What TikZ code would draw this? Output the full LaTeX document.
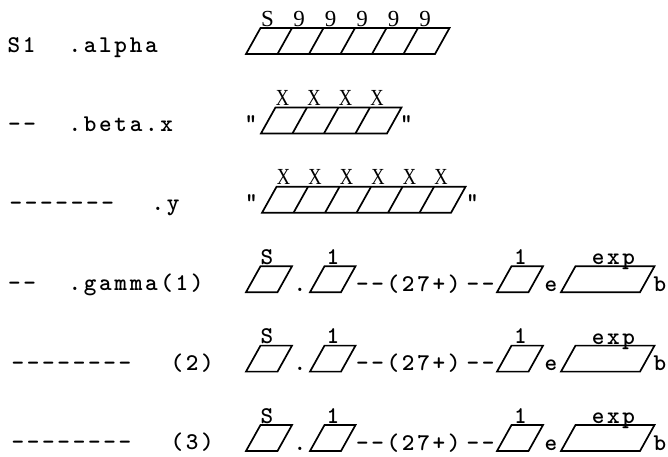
\documentclass[tikz,border=0pt]{standalone}
\usepackage{fontspec}
\newfontfamily\lserif{Liberation Serif}
\makeatletter
\newcommand\twspaced[1]{\@tfor\tw@c:=#1\do{\makebox[15.3pt]{\tw@c}}}
\makeatother
\tikzset{
  cellline/.style={line width=1.7pt, line join=miter},
  mono/.style={font=\fontsize{24}{24}\selectfont\ttfamily\bfseries, inner sep=0pt, anchor=base west},
  monoc/.style={font=\fontsize{24}{24}\selectfont\ttfamily\bfseries, inner sep=0pt, anchor=base},
  slab/.style={font=\fontsize{23}{23}\selectfont\lserif, inner sep=0pt, anchor=base},
  xlab/.style={slab, xscale=0.8},
}
% #1 = bottom-left x, #2 = top y, #3 = number of cells, #4 = cell width
\newcommand\cellstrip[4]{%
  \draw[cellline] (#1,#2+26) -- ++({#3*#4},0) -- ++(14.5,-26) -- ++({-#3*#4},0) -- cycle;
  \ifnum#3>1
    \foreach \k in {2,...,#3} \draw[cellline] ({#1+(\k-1)*#4},#2+26) -- ++(14.5,-26);
  \fi}
\begin{document}
\begin{tikzpicture}[x=1pt,y=-1pt]
\useasboundingbox (0,0) rectangle (668,456);
% ---------- row 1
\node[mono] (l1a) at (6,52) {\twspaced{S1}};
\node[mono] (l1b) at (67,52) {\twspaced{.alpha}};
\cellstrip{246}{28}{6}{31.5}
\foreach \t [count=\i from 0] in {S,9,9,9,9,9}
  \node[slab] (r1l\i) at ({246+14.5+31.5*\i+7},26) {\t};
% ---------- row 2
\node[mono] (l2a) at (6.5,131.4) {\twspaced{--}};
\node[mono] (l2b) at (67,131.4) {\twspaced{.beta.x}};
\node[monoc] (q2l) at (251,130) {"};
\cellstrip{261}{107.4}{4}{31.5}
\node[monoc] (q2r) at (406.5,130) {"};
\foreach \i in {0,...,3}
  \node[xlab] (r2l\i) at ({261+14.5+31.5*\i+7},105.4) {X};
% ---------- row 3
\node[mono] (l3a) at (8,210.8) {\twspaced{-------}};
\node[mono] (l3b) at (150,210.8) {\twspaced{.y}};
\node[monoc] (q3l) at (251.5,209.5) {"};
\cellstrip{262}{186.8}{6}{31.5}
\node[monoc] (q3r) at (472.5,209.5) {"};
\foreach \i in {0,...,5}
  \node[xlab] (r3l\i) at ({262+14.5+31.5*\i+7},184.8) {X};
% ---------- rows 4-6
\foreach \T/\la/\lb/\lx/\ld [count=\r from 4] in {266.2/--/.gamma(1)/67/6.5, 345.6/--------/(2)/169/10, 425/--------/(3)/169/10}{
  \node[mono] (l\r a) at (\ld,\T+24.5) {\expandafter\twspaced\expandafter{\la}};
  \node[mono] (l\r b) at (\lx,\T+24.5) {\expandafter\twspaced\expandafter{\lb}};
  \cellstrip{246}{\T}{1}{31.5}
  \node[monoc] (s\r) at (267,\T-2) {S};
  \node[monoc] (d\r) at (300,\T+25) {.};
  \cellstrip{310}{\T}{1}{31}
  \node[monoc] (o\r) at (333,\T-2) {1};
  \node[mono] (m\r) at (354.5,\T+25) {\twspaced{--(27+)}};
  \node[mono] (n\r) at (465,\T+25) {\twspaced{--}};
  \cellstrip{497}{\T}{1}{31.5}
  \node[monoc] (p\r) at (520.5,\T-2) {1};
  \node[monoc] (e\r) at (551,\T+25) {e};
  \cellstrip{561}{\T}{1}{79}
  \node[monoc] (x\r) at (613.5,\T-1.5) {\twspaced{exp}};
  \node[monoc] (b\r) at (660,\T+25) {b};
}
\end{tikzpicture}
\end{document}
